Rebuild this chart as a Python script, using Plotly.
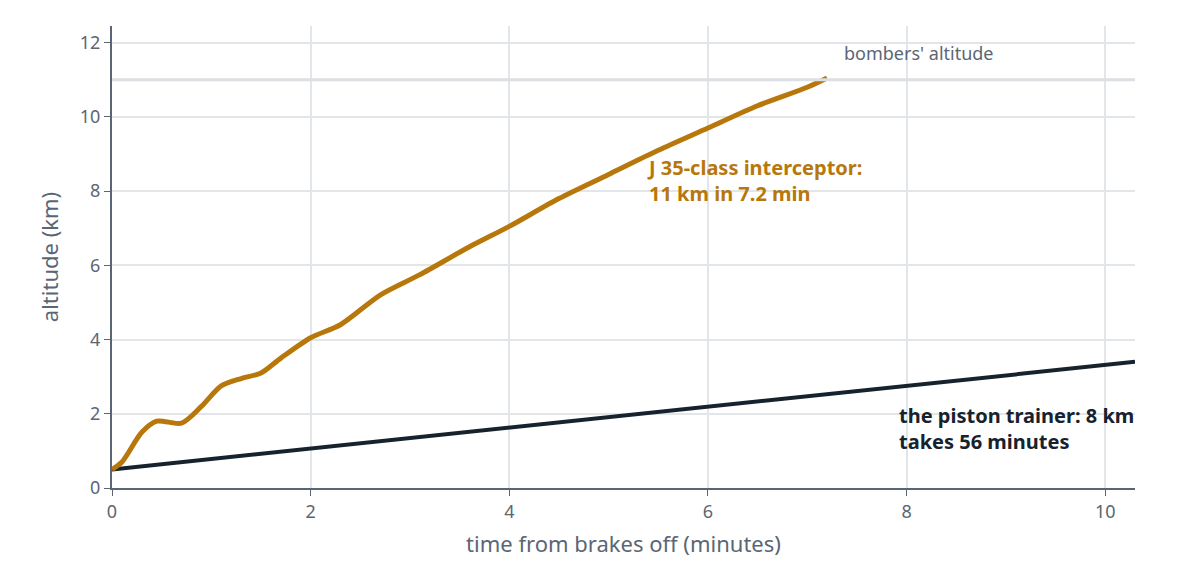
import plotly.graph_objects as go

# interceptor climb profile (minutes, km)
jet_time = [0, 0.1, 0.3, 0.45, 0.7, 0.9, 1.1, 1.3, 1.5, 1.7, 2.0, 2.3, 2.7, 3.1,
            3.6, 4.0, 4.5, 5.0, 5.5, 6.0, 6.5, 7.0, 7.2]
jet_alt = [0.5, 0.7, 1.5, 1.8, 1.75, 2.2, 2.75, 2.95, 3.1, 3.5, 4.05, 4.4, 5.2, 5.75,
           6.5, 7.05, 7.8, 8.45, 9.1, 9.7, 10.3, 10.8, 11.05]

# piston trainer climb
trainer_time = [0, 10.3]
trainer_alt = [0.5, 3.4]

bomber_alt = 11
x_ticks = [0, 2, 4, 6, 8, 10]
y_ticks = [0, 2, 4, 6, 8, 10, 12]

grid = "#e3e6e9"
axis_col = "#5b6675"
gold = "#b8770b"
dark = "#16222e"
font = "Noto Sans"

fig = go.Figure()
fig.add_hline(y=bomber_alt, line=dict(color="#dcdfe3", width=3))
fig.add_trace(go.Scatter(x=trainer_time, y=trainer_alt, mode="lines",
                         line=dict(color=dark, width=4), hoverinfo="skip"))
fig.add_trace(go.Scatter(x=jet_time, y=jet_alt, mode="lines",
                         line=dict(color=gold, width=5, shape="spline", smoothing=0.8),
                         hoverinfo="skip"))

fig.add_annotation(x=7.35, y=11.35, text="bombers' altitude", showarrow=False,
                   xanchor="left", yanchor="bottom", font=dict(color=axis_col, size=18, family=font))
fig.add_annotation(x=5.37, y=8.3, text="<b>J 35-class interceptor:<br>11 km in 7.2 min</b>",
                   showarrow=False, xanchor="left", align="left",
                   font=dict(color=gold, size=20, family=font))
fig.add_annotation(x=7.9, y=1.6, text="<b>the piston trainer: 8 km<br>takes 56 minutes</b>",
                   showarrow=False, xanchor="left", align="left",
                   font=dict(color=dark, size=20, family=font))

fig.update_layout(
    width=1196, height=582, showlegend=False,
    plot_bgcolor="white", paper_bgcolor="white",
    margin=dict(l=104, r=69, t=18, b=102),
    font=dict(family=font, color=axis_col, size=18),
)
fig.update_xaxes(range=[0, 10.3], tickvals=x_ticks, gridcolor=grid, gridwidth=2,
                 showline=True, linecolor=axis_col, linewidth=2, ticks="outside",
                 ticklen=6, tickcolor=axis_col, zeroline=False, automargin=False,
                 title=dict(text="time from brakes off (minutes)", font=dict(size=22)))
fig.update_yaxes(range=[0, 12.45], tickvals=y_ticks, gridcolor=grid, gridwidth=2,
                 showline=True, linecolor=axis_col, linewidth=2, ticks="outside",
                 ticklen=6, tickcolor=axis_col, zeroline=False, automargin=False,
                 title=dict(text="altitude (km)", font=dict(size=22)))

fig.write_html("out.html")
